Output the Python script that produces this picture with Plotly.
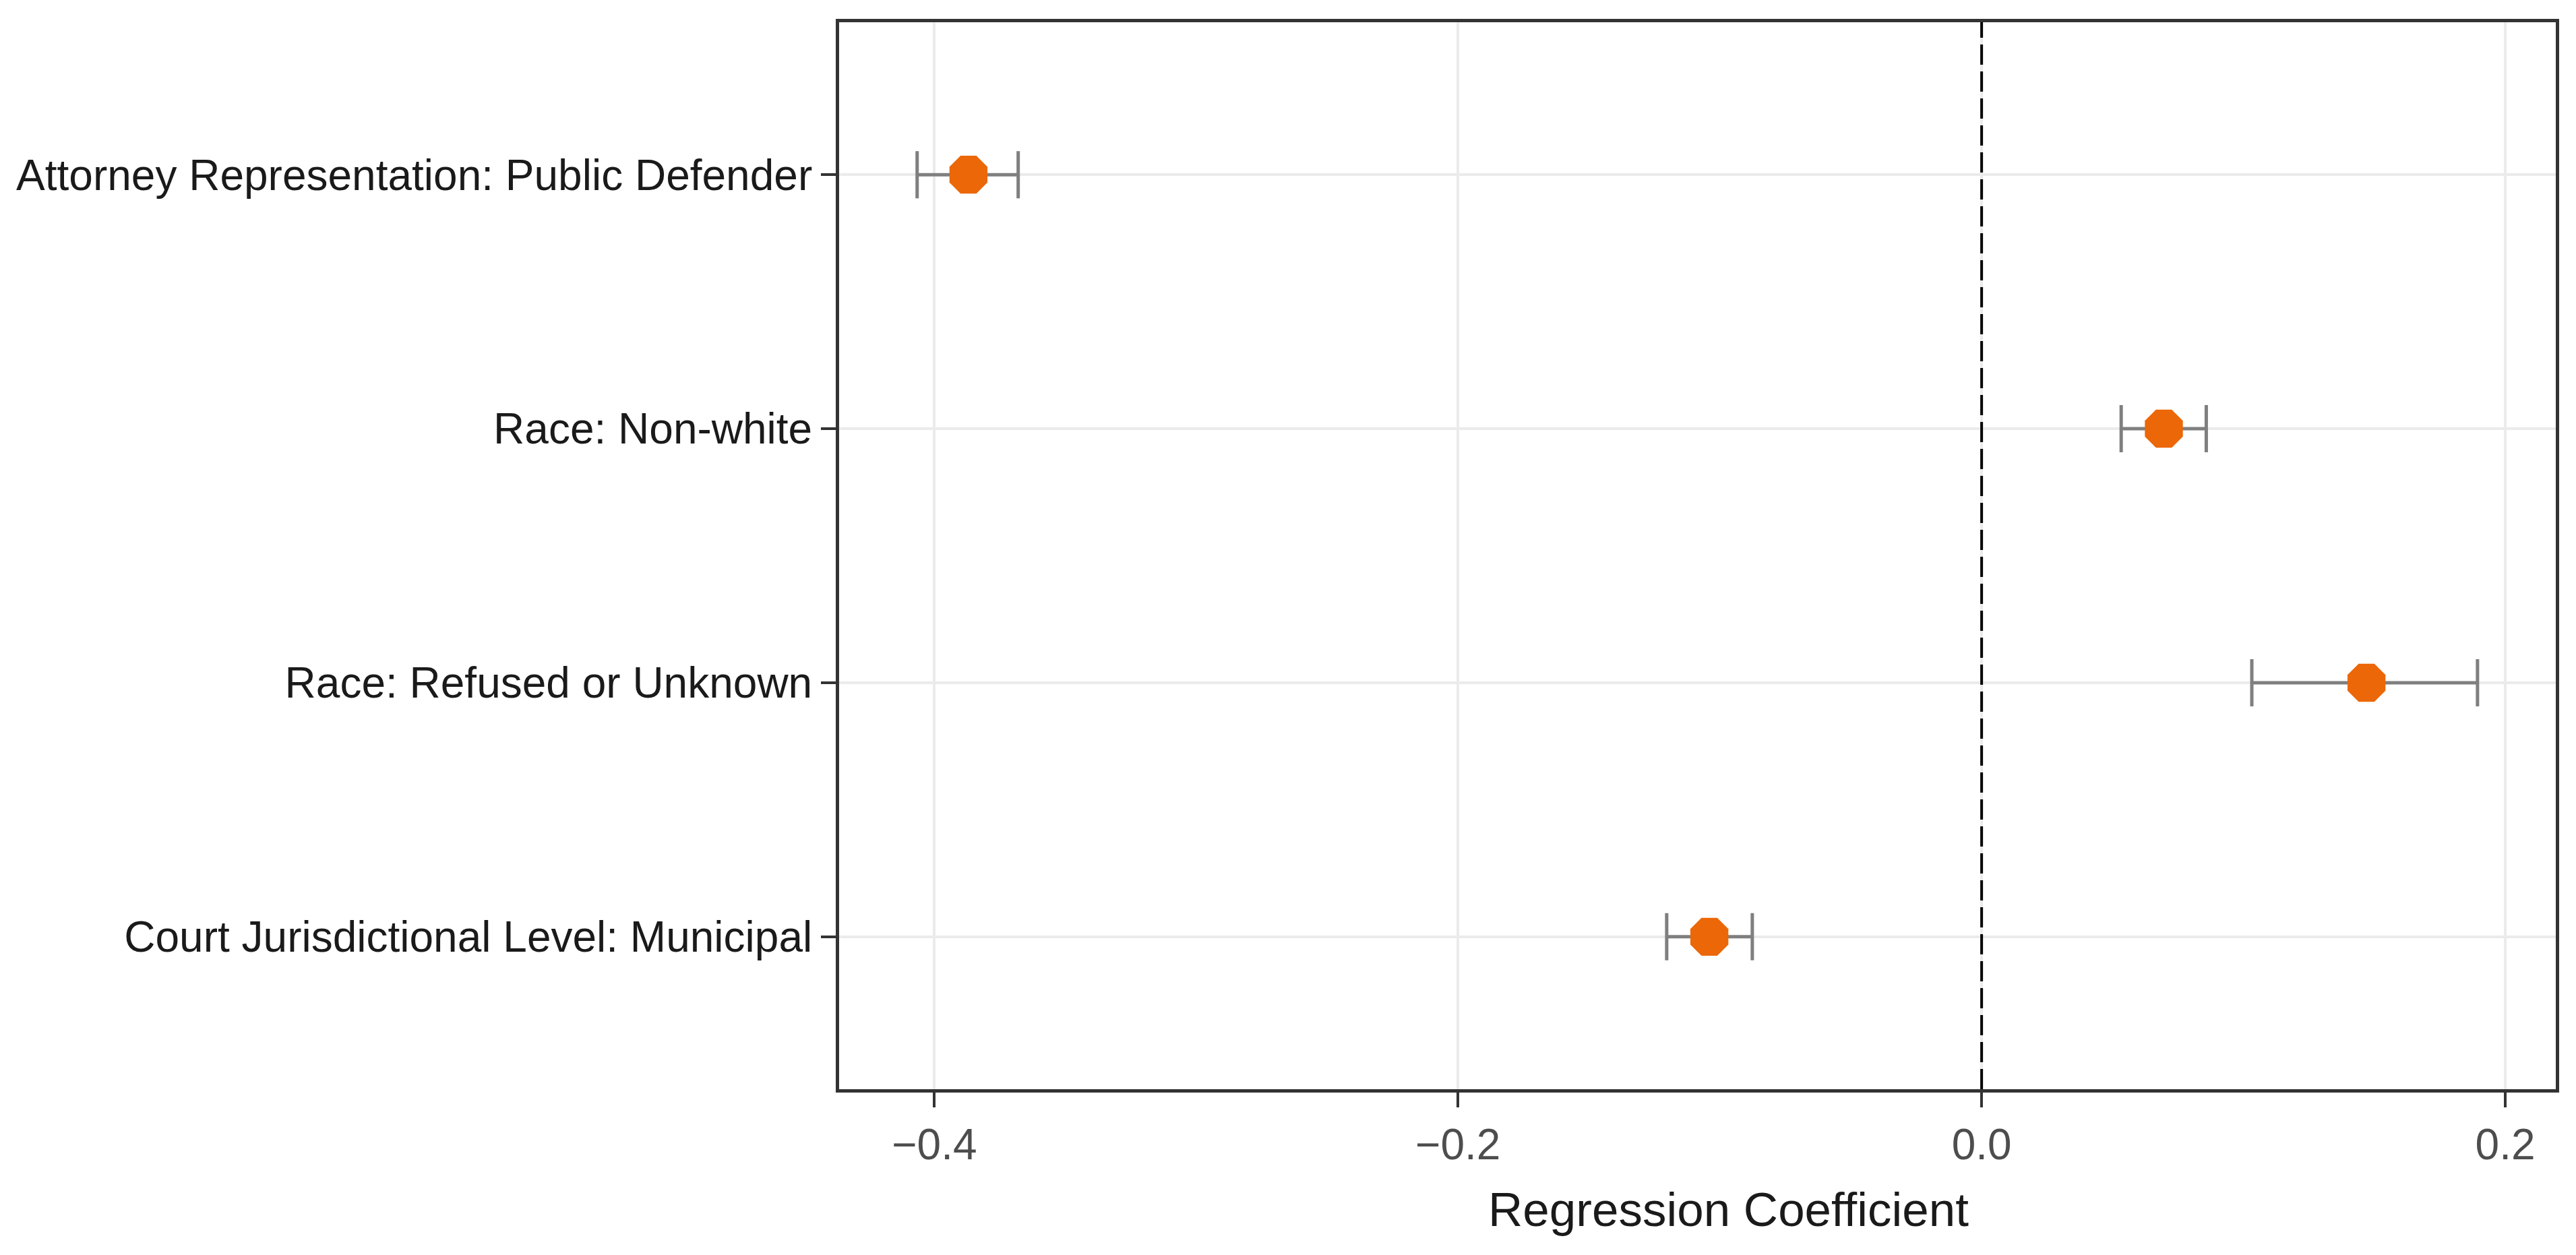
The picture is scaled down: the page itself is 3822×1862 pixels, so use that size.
import plotly.graph_objects as go

terms = [
    "Attorney Representation: Public Defender",
    "Race: Non-white",
    "Race: Refused or Unknown",
    "Court Jurisdictional Level: Municipal",
]
estimate = [-0.387, 0.0696, 0.147, -0.104]
ci_low = [-0.4066, 0.0533, 0.1032, -0.1203]
ci_high = [-0.368, 0.0858, 0.1894, -0.0876]

x_ticks = [-0.4, -0.2, 0.0, 0.2]
x_ticklabels = ["\u22120.4", "\u22120.2", "0.0", "0.2"]
x_title = "Regression Coefficient"

err_plus = [h - e for h, e in zip(ci_high, estimate)]
err_minus = [e - l for e, l in zip(estimate, ci_low)]

fig = go.Figure()

fig.add_trace(go.Scatter(
    x=estimate,
    y=terms,
    mode="markers",
    marker=dict(symbol="octagon", size=61, color="#EC6707", line=dict(width=0)),
    error_x=dict(
        type="data",
        symmetric=False,
        array=err_plus,
        arrayminus=err_minus,
        color="#7F7F7F",
        thickness=5,
        width=35,
    ),
    showlegend=False,
))

fig.add_vline(x=0, line=dict(color="#000000", width=4, dash="30px,10px"), layer="above")

fig.add_annotation(
    text=x_title,
    xref="paper", yref="paper",
    x=0.518, y=-0.113,
    xanchor="center", yanchor="middle",
    showarrow=False,
    font=dict(size=71, color="#1A1A1A"),
)

fig.update_layout(
    width=3822,
    height=1862,
    margin=dict(l=1237, r=38, t=25, b=254, autoexpand=False),
    paper_bgcolor="white",
    plot_bgcolor="white",
    font=dict(family="Liberation Sans, Arial, sans-serif", size=64, color="#1A1A1A"),
)

fig.update_xaxes(
    range=[-0.4364, 0.2193],
    tickvals=x_ticks,
    ticktext=x_ticklabels,
    tickfont=dict(size=64, color="#4D4D4D"),
    ticks="outside",
    ticklen=22,
    tickwidth=4,
    tickcolor="#333333",
    showgrid=True,
    gridcolor="#EBEBEB",
    gridwidth=4,
    zeroline=False,
    showline=True,
    linecolor="#333333",
    linewidth=5,
    mirror=True,
)

fig.update_yaxes(
    type="category",
    categoryorder="array",
    categoryarray=terms,
    range=[3.6, -0.6],
    tickfont=dict(size=64, color="#1A1A1A"),
    ticks="outside",
    ticklen=22,
    tickwidth=4,
    tickcolor="#333333",
    showgrid=True,
    gridcolor="#EBEBEB",
    gridwidth=4,
    zeroline=False,
    showline=True,
    linecolor="#333333",
    linewidth=5,
    mirror=True,
)

fig.write_html("out.html")
